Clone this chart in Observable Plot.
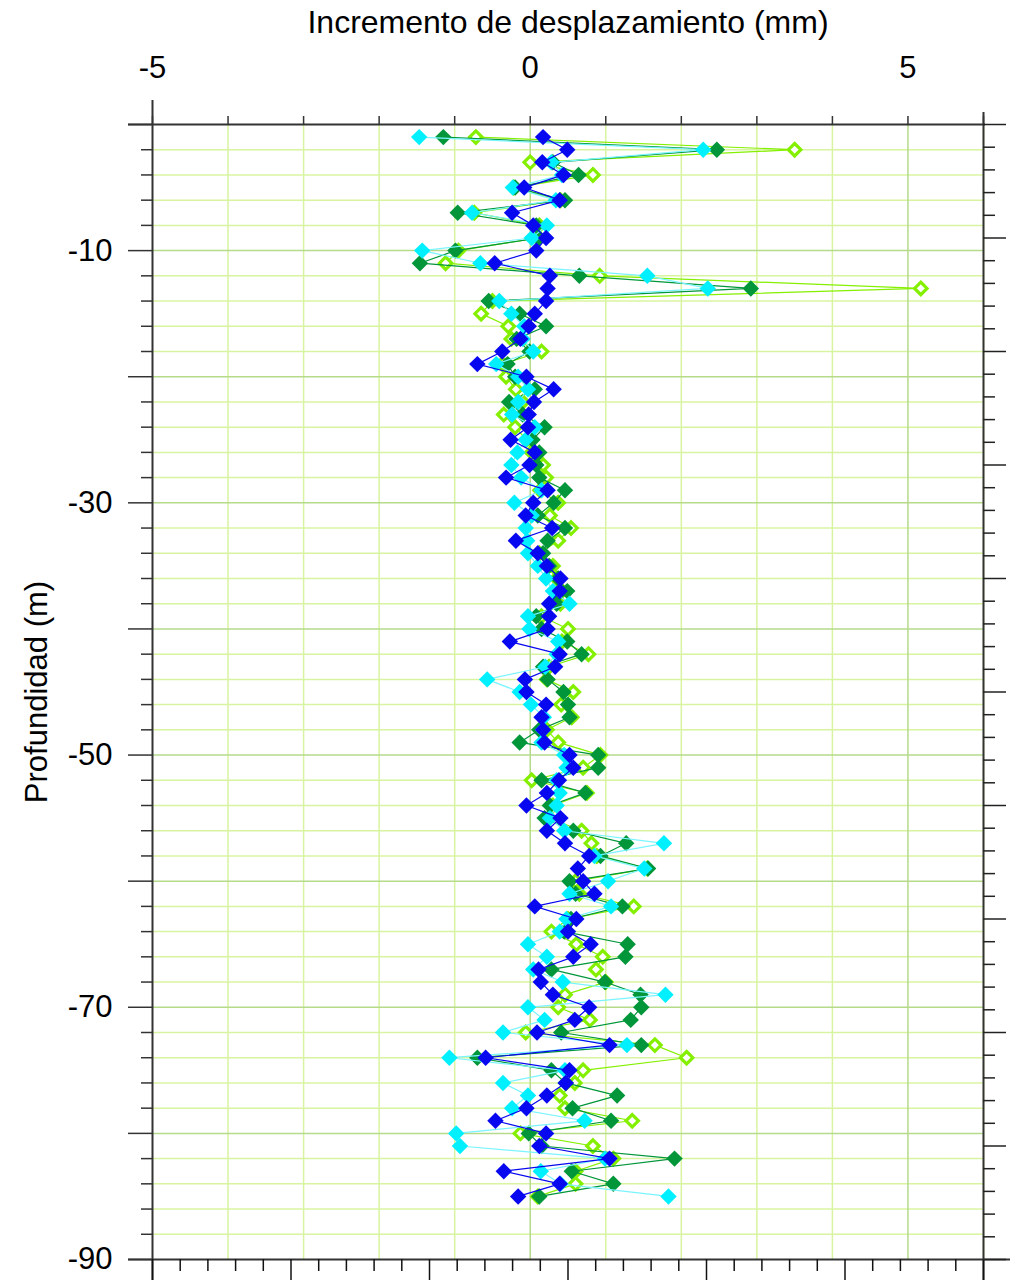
<!DOCTYPE html>
<html>
<head>
<meta charset="utf-8">
<script src="https://cdn.jsdelivr.net/npm/d3@7"></script>
<script src="https://cdn.jsdelivr.net/npm/@observablehq/plot@0.6"></script>
<style>
  html, body { margin: 0; padding: 0; background: white; }
  #chart { width: 1017px; height: 1280px; }
</style>
</head>
<body>
<div id="chart"></div>
<script>
// ---- Datos ----
const profundidades = d3.range(1, 86); // m
const verdeOscuro = [-1.15,2.47,0.30,0.64,-0.20,0.46,-0.96,0.08,0.12,-0.99,-1.46,0.65,2.92,-0.55,-0.14,0.21,-0.18,-0.01,-0.30,-0.20,0.06,-0.28,-0.10,0.19,0.03,0.12,0.08,0.12,0.46,0.31,0.10,0.46,0.23,0.17,0.25,0.37,0.49,0.35,0.08,0.15,0.49,0.68,0.17,0.23,0.44,0.50,0.52,0.12,-0.14,0.90,0.90,0.15,0.73,0.26,0.19,0.57,1.27,0.93,1.56,0.52,0.60,1.22,0.54,0.45,1.29,1.26,0.28,0.99,1.46,1.47,1.33,0.41,1.47,-0.70,0.28,0.47,1.15,0.56,1.07,-0.02,0.15,1.91,0.55,1.10,0.12];
const verdeClaro = [-0.72,3.50,0.00,0.83,-0.22,0.40,-0.74,0.12,0.10,-0.95,-1.12,0.92,5.17,-0.50,-0.65,-0.29,-0.25,0.15,-0.37,-0.32,-0.19,-0.10,-0.35,-0.20,-0.05,0.02,0.17,0.21,0.13,0.37,0.26,0.54,0.37,0.12,0.30,0.35,0.42,0.40,0.15,0.50,0.42,0.77,0.25,0.22,0.57,0.41,0.55,0.22,0.37,0.93,0.70,0.02,0.75,0.30,0.25,0.68,0.81,0.88,1.55,0.60,0.65,1.37,0.50,0.28,0.61,0.96,0.87,1.00,0.46,0.37,0.79,-0.06,1.65,2.07,0.70,0.59,0.39,0.46,1.35,-0.13,0.83,1.10,0.60,0.60,0.10];
const cian = [-1.47,2.29,0.28,0.42,-0.23,0.34,-0.77,0.22,0.02,-1.43,-0.66,1.55,2.35,-0.41,-0.25,-0.08,-0.10,0.04,-0.45,-0.16,-0.03,-0.16,-0.24,0.06,-0.06,-0.17,-0.25,-0.12,0.15,-0.21,0.02,-0.06,-0.04,-0.03,0.10,0.21,0.30,0.52,-0.03,-0.01,0.37,0.35,0.20,-0.57,-0.14,0.01,0.18,0.17,0.15,0.45,0.48,0.35,0.39,0.35,0.26,0.45,1.77,0.85,1.51,1.03,0.52,1.07,0.48,0.39,-0.03,0.22,0.04,0.43,1.79,-0.03,0.19,-0.36,1.28,-1.07,0.46,-0.36,-0.03,-0.24,0.72,-0.98,-0.93,0.99,0.14,0.40,1.83];
const azul = [0.17,0.49,0.16,0.44,-0.08,0.39,-0.24,0.04,0.21,0.08,-0.47,0.26,0.23,0.21,0.06,-0.02,-0.13,-0.37,-0.70,-0.05,0.31,0.05,-0.02,-0.03,-0.26,0.06,-0.01,-0.32,0.23,0.04,-0.06,0.29,-0.19,0.10,0.22,0.40,0.39,0.25,0.25,0.23,-0.27,0.39,0.33,-0.07,-0.05,0.21,0.15,0.17,0.19,0.52,0.57,0.38,0.22,-0.05,0.40,0.22,0.46,0.78,0.63,0.70,0.85,0.06,0.61,0.50,0.80,0.57,0.11,0.14,0.30,0.78,0.59,0.09,1.05,-0.59,0.52,0.47,0.22,-0.05,-0.46,0.21,0.12,1.05,-0.35,0.39,-0.16];

const xEtiquetas = [-5, 0, 5];
const yEtiquetas = [-10, -30, -50, -70, -90];
const titulo = "Incremento de desplazamiento (mm)";
const tituloY = "Profundidad (m)";

// ---- Layout ----
const W = 1017, H = 1280, mL = 152, mR = 34, mT = 124, mB = 21;
const xDom = [-5, 6], yDom = [-90, 0];
const kx = (W - mL - mR) / (xDom[1] - xDom[0]);
const ky = (H - mT - mB) / (yDom[1] - yDom[0]);

const tabla = (vals) => profundidades.map((p, i) => ({prof: -p, valor: vals[i]}));

const gridXMenor = d3.range(-4, 7).filter(v => v % 5 !== 0);
const gridXMayor = [0, 5];
const gridYMenor = d3.range(-88, 0, 2).filter(v => v % 10 !== 0);
const gridYMayor = d3.range(-80, 0, 10);

const ticksTop = d3.range(-5, 7);
const ticksLeft = d3.range(-90, 1, 2);
const ticksBottom = d3.range(0, 31).map(i => ({v: -5 + i * 11 / 30, mayor: i % 5 === 0}));
const ticksRight = d3.range(0, 51).map(i => ({v: -i * 1.8, mayor: i % 5 === 0}));

const cDark = "#009639", cLight = "#84f000", cCyan = "#00f0ff", cBlue = "#0808f0";
const axisColor = "#333";
const font = 31;

function serie(vals, color, opts = {}) {
  const d = tabla(vals);
  return [
    Plot.line(d, {x: "valor", y: "prof", stroke: opts.lineColor || color, strokeWidth: 1.2}),
    opts.open
      ? Plot.dot(d, {x: "valor", y: "prof", symbol: "diamond2", r: 5.6, fill: "white", stroke: color, strokeWidth: 3.2})
      : Plot.dot(d, {x: "valor", y: "prof", symbol: "diamond2", r: 7.4, fill: color, stroke: null})
  ];
}

const chart = Plot.plot({
  width: W, height: H,
  marginLeft: mL, marginRight: mR, marginTop: mT, marginBottom: mB,
  style: {fontFamily: "'Liberation Sans', Arial, sans-serif", background: "white", overflow: "visible"},
  x: {domain: xDom, axis: null},
  y: {domain: yDom, axis: null},
  marks: [
    // grid
    Plot.ruleX(gridXMenor, {stroke: "#d8f4a0", strokeWidth: 1.5}),
    Plot.ruleY(gridYMenor, {stroke: "#d8f4a0", strokeWidth: 1.5}),
    Plot.ruleX(gridXMayor, {stroke: "#b4da8a", strokeWidth: 1.5}),
    Plot.ruleY(gridYMayor, {stroke: "#b4da8a", strokeWidth: 1.5}),
    // series
    ...serie(verdeClaro, cLight, {open: true}),
    ...serie(verdeOscuro, cDark),
    ...serie(cian, cCyan, {lineColor: "#7af4ff"}),
    ...serie(azul, cBlue),
    // frame lines
    Plot.ruleX([-5], {y1: 24 / ky, y2: -90 - 21 / ky, stroke: axisColor, strokeWidth: 2}),
    Plot.ruleX([6], {y1: 12 / ky, y2: -90 - 21 / ky, stroke: axisColor, strokeWidth: 2}),
    Plot.ruleY([0], {x1: -5 - 24 / kx, x2: 6 + 2 / kx, stroke: axisColor, strokeWidth: 2}),
    Plot.ruleY([-90], {x1: -5 - 24 / kx, x2: 6 + 27 / kx, stroke: axisColor, strokeWidth: 2}),
    // ticks
    Plot.ruleX(ticksTop, {y1: 0, y2: 8 / ky, stroke: axisColor, strokeWidth: 1.5}),
    Plot.ruleY(ticksLeft, {x1: d => -5 - (d % 10 === 0 ? 24 : 11) / kx, x2: -5, stroke: axisColor, strokeWidth: 1.5}),
    Plot.ruleX(ticksBottom, {x: "v", y1: -90, y2: d => -90 - (d.mayor ? 21 : 12) / ky, stroke: "#111", strokeWidth: 1.5}),
    Plot.ruleY(ticksRight, {y: "v", x1: 6, x2: d => 6 + (d.mayor ? 23 : 12) / kx, stroke: "#222", strokeWidth: 1.5}),
    // labels
    Plot.text(xEtiquetas, {x: d => d, y: 0, dy: -56, text: d => String(d), fontSize: font, fill: "black"}),
    Plot.text(yEtiquetas, {x: -5, y: d => d, dx: -40, textAnchor: "end", text: d => String(d), fontSize: font, fill: "black"}),
    Plot.text([titulo], {x: 0.5, y: 0, dy: -102, text: d => d, fontSize: 32, fill: "black"}),
    Plot.text([tituloY], {x: -5, y: -45, dx: -115, rotate: -90, text: d => d, fontSize: font, fill: "black"})
  ]
});
document.getElementById("chart").appendChild(chart);
</script>
</body>
</html>
